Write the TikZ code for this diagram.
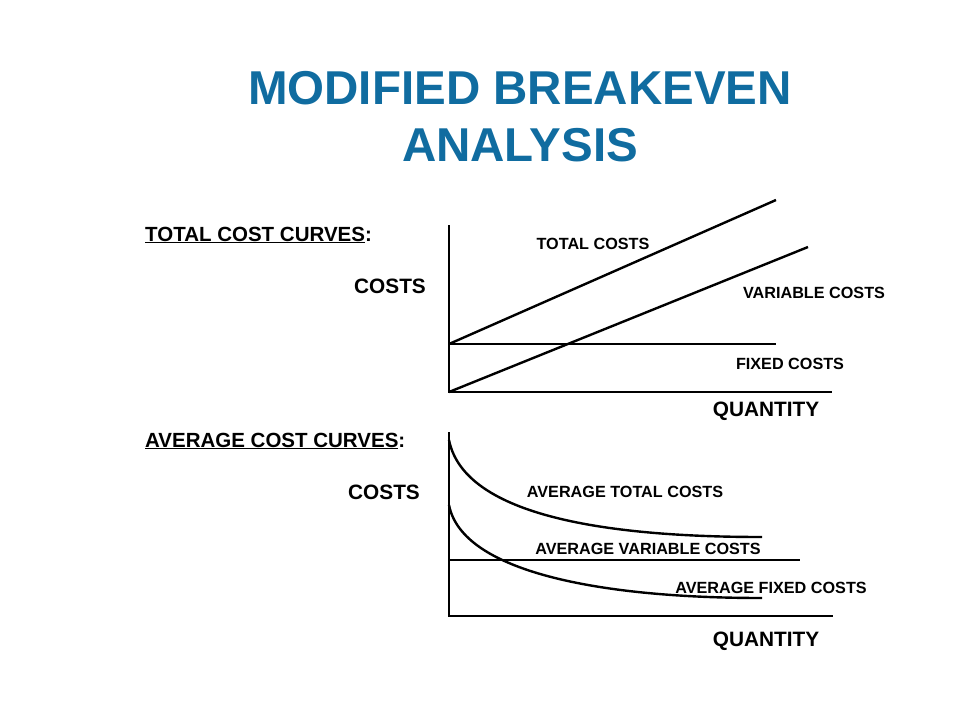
\documentclass[tikz,border=0pt]{standalone}
\usepackage{fontspec}
\setmainfont{Liberation Sans}
\usetikzlibrary{positioning}
\definecolor{titleblue}{RGB}{16,108,160}
\tikzstyle{curve} = [line width=2.4pt, black]
\tikzstyle{lbl} = [font=\bfseries\fontsize{16.2}{18}\selectfont, inner sep=0pt]
\tikzstyle{axislbl} = [font=\bfseries\fontsize{20.8}{23}\selectfont, inner sep=0pt]
\tikzstyle{heading} = [font=\bfseries\fontsize{20.5}{23}\selectfont, inner sep=0pt, anchor=west]
\begin{document}
\begin{tikzpicture}[x=1pt, y=-1pt]
    \useasboundingbox (0,0) rectangle (960,720);
    % title
    \node [font=\bfseries\fontsize{47.5}{57}\selectfont, text=titleblue, align=center] (title) at (520,117) {MODIFIED BREAKEVEN\\ANALYSIS};
    % total cost curves
    \node [heading] (tchead) at (145,235) {\underline{TOTAL COST CURVES}:};
    \coordinate (ttop) at (449,225);
    \coordinate (torig) at (449,392);
    \coordinate (tend) at (832,392);
    \coordinate (tfix) at (449,344);
    \coordinate (tfixend) at (776,344);
    \coordinate (ttcend) at (776,200);
    \coordinate (tvcend) at (808,247);
    \draw [curve] (ttop) -- (torig) -- (tend);
    \draw [curve] (tfix) -- (tfixend);
    \draw [curve] (tfix) -- (ttcend);
    \draw [curve] (torig) -- (tvcend);
    \node [axislbl] (tcosts) at (390,286) {COSTS};
    \node [axislbl] (tqty) at (766,411) {QUANTITY};
    \node [lbl] (tc) at (593,244) {TOTAL COSTS};
    \node [lbl] (vc) at (814,293) {VARIABLE COSTS};
    \node [lbl] (fc) at (790,364) {FIXED COSTS};
    % average cost curves
    \node [heading] (achead) at (145,441) {\underline{AVERAGE COST CURVES}:};
    \coordinate (atop) at (449,432);
    \coordinate (aorig) at (449,616);
    \coordinate (aend) at (833,616);
    \coordinate (avc) at (449,560);
    \coordinate (avcend) at (800,560);
    \draw [curve] (atop) -- (aorig) -- (aend);
    \draw [curve] (avc) -- (avcend);
    \draw [curve] (449,440) .. controls (462,505) and (570,537) .. (762,537);
    \draw [curve] (449,505) .. controls (462,572) and (600,598) .. (762,598);
    \node [axislbl] (acosts) at (384,492) {COSTS};
    \node [axislbl] (aqty) at (766,641) {QUANTITY};
    \node [lbl] (atc) at (625,492) {AVERAGE TOTAL COSTS};
    \node [lbl] (avclbl) at (648,549) {AVERAGE VARIABLE COSTS};
    \node [lbl] (afc) at (771,588) {AVERAGE FIXED COSTS};
\end{tikzpicture}
\end{document}
